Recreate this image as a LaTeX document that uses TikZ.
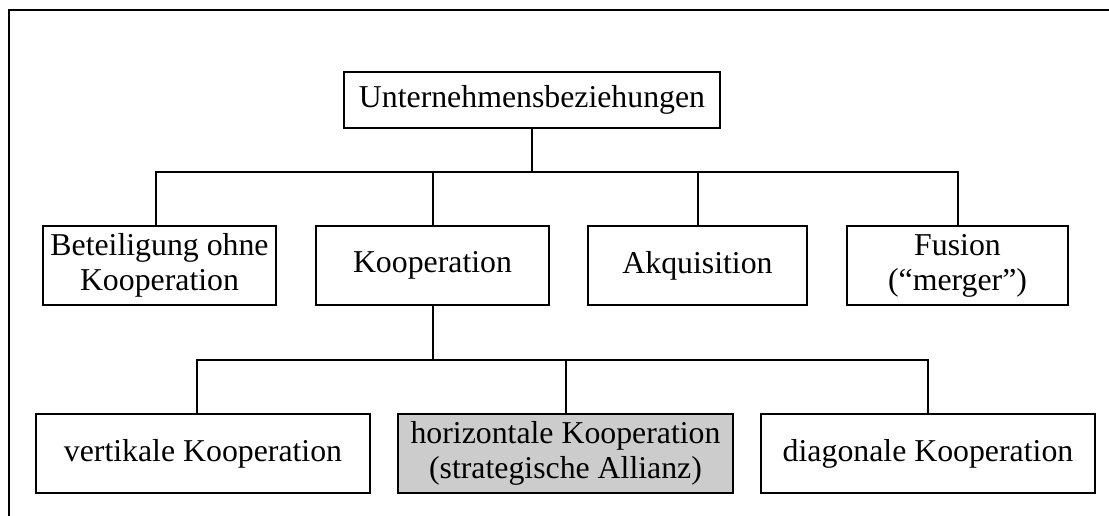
\documentclass[tikz,border=0pt]{standalone}
\usepackage{fontspec}
\setmainfont{Liberation Serif}
\begin{document}
\begin{tikzpicture}[x=1pt,y=-1pt,
  box/.style={draw=black,line width=2pt,fill=white,inner sep=0pt,align=center,
    font=\fontsize{31.8}{35}\selectfont},
  link/.style={draw=black,line width=2pt}]
\useasboundingbox (0,0) rectangle (1109,515);
\begin{scope}
\clip (0,0) rectangle (1109,515);
% outer frame, running off the right and bottom edges
\draw[line width=2.4pt] (1120,10) -- (9,10) -- (9,530);
\end{scope}

% top level
\node[box,minimum width=376pt,minimum height=56pt] (top) at (532,100) {Unternehmensbeziehungen};

% second level
\node[box,minimum width=233pt,minimum height=79pt] (bet) at (159.5,265.5) {Beteiligung ohne\\Kooperation};
\node[box,minimum width=233pt,minimum height=79pt] (koop) at (432.5,265.5) {Kooperation};
\node[box,minimum width=219pt,minimum height=79pt] (akq) at (697.5,265.5) {Akquisition};
\node[box,minimum width=221pt,minimum height=79pt] (fus) at (957.5,265.5) {Fusion\\(“merger”)};

% third level
\node[box,minimum width=334pt,minimum height=79pt] (vert) at (203,453.5) {vertikale Kooperation};
\node[box,fill=black!20,minimum width=335pt,minimum height=79pt] (hori) at (565.5,453.5) {horizontale Kooperation\\(strategische Allianz)};
\node[box,minimum width=334pt,minimum height=79pt] (diag) at (928,453.5) {diagonale Kooperation};

% connectors, top to second level
\coordinate (b1) at (532,172);
\draw[link] (top.south) -- (b1);
\draw[link] ([xshift=-3.5pt]bet.north) |- (b1) -| (fus.north);
\draw[link] (koop.north) -- (koop.north |- b1);
\draw[link] (akq.north) -- (akq.north |- b1);

% connectors, Kooperation to third level
\coordinate (b2) at (432.5,360);
\draw[link] (koop.south) -- (b2);
\draw[link] ([xshift=-6pt]vert.north) |- (b2) -| (diag.north);
\draw[link] (hori.north) -- (hori.north |- b2);
\end{tikzpicture}
\end{document}
